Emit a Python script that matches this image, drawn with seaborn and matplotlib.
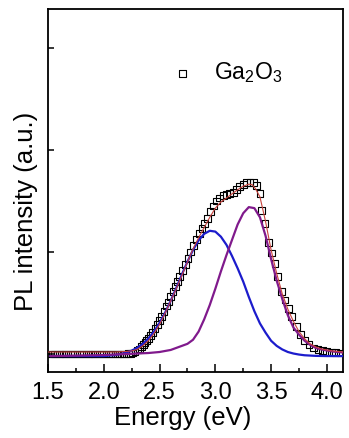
#!/usr/bin/env python3
"""PL spectrum of Ga2O3 with two-peak deconvolution."""

import matplotlib
matplotlib.use("Agg")
import matplotlib.pyplot as plt
from matplotlib.ticker import MultipleLocator
import pandas as pd
import seaborn as sns


# measured PL points (open squares)
DATA_E = [
    1.52, 1.54, 1.56, 1.58, 1.60, 1.62, 1.64, 1.66, 1.68, 1.70, 1.72, 1.74,
    1.76, 1.78, 1.80, 1.82, 1.84, 1.86, 1.88, 1.90, 1.92, 1.94, 1.96, 1.98,
    2.00, 2.02, 2.04, 2.06, 2.08, 2.10, 2.12, 2.14, 2.16, 2.18, 2.20, 2.22,
    2.24, 2.26, 2.28, 2.30, 2.32, 2.34, 2.355, 2.37, 2.385, 2.40, 2.42, 2.44,
    2.46, 2.48, 2.50, 2.52, 2.54, 2.56, 2.58, 2.60, 2.62, 2.64, 2.66, 2.68,
    2.705, 2.73, 2.755, 2.78, 2.805, 2.83, 2.855, 2.88, 2.905, 2.93, 2.955,
    2.98, 3.01, 3.04, 3.07, 3.10, 3.13, 3.16, 3.19, 3.22, 3.25, 3.28, 3.31,
    3.34, 3.37, 3.40, 3.415, 3.445, 3.475, 3.505, 3.535, 3.555, 3.595, 3.625,
    3.655, 3.685, 3.73, 3.76, 3.80, 3.84, 3.88, 3.92, 3.96, 4.00, 4.04, 4.08,
    4.12,
]
DATA_I = [
    0.0, 0.0, 0.0, 0.0, 0.0, 0.0, 0.0, 0.0, 0.0, 0.0, 0.0, 0.0,
    0.0, 0.0, 0.0, 0.0, 0.0, 0.0, 0.0, 0.0, 0.0, 0.0, 0.0, 0.0,
    0.0, 0.0, 0.0, 0.0, 0.0, 0.0, 0.0, 0.0, 0.0, 0.0, 0.0, 0.005,
    0.005, 0.01, 0.02, 0.04, 0.05, 0.07, 0.09, 0.11, 0.13, 0.15, 0.18, 0.21,
    0.25, 0.29, 0.33, 0.37, 0.42, 0.47, 0.51, 0.56, 0.61, 0.66, 0.71, 0.76,
    0.82, 0.88, 0.94, 1.00, 1.06, 1.12, 1.18, 1.23, 1.28, 1.33, 1.40,
    1.45, 1.50, 1.53, 1.55, 1.56, 1.57, 1.58, 1.61, 1.64, 1.66, 1.68, 1.685,
    1.68, 1.65, 1.57, 1.41, 1.28, 1.09, 0.99, 0.89, 0.76, 0.61, 0.53,
    0.45, 0.37, 0.27, 0.19, 0.13, 0.09, 0.06, 0.045, 0.035, 0.025, 0.02, 0.015,
    0.01,
]

# cumulative fit (red)
FIT_E = [
    1.50, 1.80, 2.10, 2.20, 2.25, 2.30, 2.35, 2.40, 2.45, 2.50, 2.55, 2.60,
    2.65, 2.70, 2.75, 2.80, 2.85, 2.90, 2.95, 3.00, 3.05, 3.10, 3.15, 3.20,
    3.25, 3.30, 3.33, 3.36, 3.40, 3.45, 3.50, 3.55, 3.60, 3.65, 3.70, 3.75,
    3.80, 3.85, 3.90, 3.95, 4.00, 4.05, 4.10, 4.145,
]
FIT_I = [
    0.02, 0.02, 0.02, 0.025, 0.03, 0.045, 0.08, 0.13, 0.20, 0.29, 0.40, 0.52,
    0.64, 0.77, 0.90, 1.03, 1.14, 1.24, 1.34, 1.43, 1.49, 1.53, 1.57, 1.61,
    1.645, 1.665, 1.66, 1.62, 1.54, 1.30, 1.02, 0.79, 0.59, 0.44, 0.32, 0.22,
    0.15, 0.10, 0.07, 0.05, 0.04, 0.03, 0.025, 0.02,
]

# low-energy component (blue)
PEAK1_E = [
    1.52, 1.80, 2.00, 2.10, 2.15, 2.20, 2.25, 2.30, 2.35, 2.40, 2.45, 2.50,
    2.55, 2.60, 2.65, 2.70, 2.75, 2.80, 2.85, 2.90, 2.95, 3.00, 3.05, 3.10,
    3.15, 3.20, 3.25, 3.30, 3.35, 3.40, 3.45, 3.50, 3.55, 3.60, 3.65, 3.70,
    3.75, 3.80, 3.90, 4.00, 4.145,
]
PEAK1_I = [
    -0.02, -0.02, -0.02, -0.01, 0.0, 0.014, 0.033, 0.061, 0.10, 0.152, 0.22, 0.305,
    0.406, 0.522, 0.648, 0.779, 0.905, 1.02, 1.114, 1.178, 1.208, 1.20, 1.15, 1.07,
    0.96, 0.84, 0.71, 0.56, 0.42, 0.30, 0.21, 0.13, 0.08, 0.045, 0.02, 0.005,
    -0.005, -0.012, -0.018, -0.02, -0.02,
]

# high-energy component (purple)
PEAK2_E = [
    1.52, 2.00, 2.20, 2.40, 2.50, 2.60, 2.70, 2.75, 2.80, 2.85, 2.90, 2.95,
    3.00, 3.05, 3.10, 3.15, 3.20, 3.25, 3.30, 3.35, 3.40, 3.45, 3.50, 3.55,
    3.60, 3.65, 3.70, 3.75, 3.80, 3.85, 3.90, 3.95, 4.00, 4.05, 4.10, 4.145,
]
PEAK2_I = [
    -0.02, -0.01, 0.0, 0.01, 0.02, 0.04, 0.08, 0.10, 0.14, 0.22, 0.34, 0.48,
    0.64, 0.81, 0.97, 1.12, 1.27, 1.38, 1.44, 1.43, 1.34, 1.16, 0.93, 0.72,
    0.54, 0.38, 0.26, 0.19, 0.13, 0.09, 0.06, 0.045, 0.035, 0.025, 0.02, 0.015,
]

X_TICKS = [1.5, 2.0, 2.5, 3.0, 3.5, 4.0]
X_TICK_LABELS = ["1.5", "2.0", "2.5", "3.0", "3.5", "4.0"]
Y_TICKS = [0, 1, 2, 3]


def main() -> None:
    sns.set_style("ticks")
    plt.rcParams["font.family"] = ["Liberation Sans", "DejaVu Sans"]
    plt.rcParams["mathtext.default"] = "regular"
    plt.rcParams["text.color"] = "black"
    plt.rcParams["axes.labelcolor"] = "black"
    plt.rcParams["xtick.color"] = "black"
    plt.rcParams["ytick.color"] = "black"

    data = pd.DataFrame({"energy": DATA_E, "intensity": DATA_I})
    fit = pd.DataFrame({"energy": FIT_E, "intensity": FIT_I})
    p1 = pd.DataFrame({"energy": PEAK1_E, "intensity": PEAK1_I})
    p2 = pd.DataFrame({"energy": PEAK2_E, "intensity": PEAK2_I})

    fig = plt.figure(figsize=(3.49, 4.38), dpi=100)
    ax = fig.add_axes([0.1375, 0.1507, 0.8455, 0.8288])

    sns.scatterplot(
        data=data, x="energy", y="intensity", marker="s", s=24,
        facecolors="none", edgecolor="black", linewidth=0.8,
        label="Ga$_2$O$_3$", ax=ax, zorder=2,
    )
    sns.lineplot(data=p1, x="energy", y="intensity", color="#1c1ccc",
                 linewidth=1.6, sort=False, estimator=None, ax=ax, zorder=3)
    sns.lineplot(data=p2, x="energy", y="intensity", color="#801a8c",
                 linewidth=1.6, sort=False, estimator=None, ax=ax, zorder=3)
    sns.lineplot(data=fit, x="energy", y="intensity", color="#c8423c",
                 linewidth=0.8, sort=False, estimator=None, ax=ax, zorder=4)

    ax.set_xlim(1.5, 4.145)
    ax.set_ylim(-0.176, 3.382)
    ax.set_xticks(X_TICKS)
    ax.set_xticklabels(X_TICK_LABELS)
    ax.xaxis.set_minor_locator(MultipleLocator(0.25))
    ax.set_yticks(Y_TICKS)
    ax.tick_params(axis="x", which="major", direction="in", length=5.8,
                   width=1.1, labelsize=17, pad=7)
    ax.tick_params(axis="x", which="minor", direction="in", length=2.9, width=1.1)
    ax.tick_params(axis="y", which="major", direction="in", length=4.3,
                   width=1.1, labelleft=False)
    for spine in ax.spines.values():
        spine.set_visible(True)
        spine.set_linewidth(1.3)
        spine.set_color("black")

    ax.set_xlabel("Energy (eV)", fontsize=18.5)
    ax.set_ylabel("PL intensity (a.u.)", fontsize=18.5)
    ax.xaxis.set_label_coords(0.456, -0.094)
    ax.yaxis.set_label_coords(-0.035, 0.443)

    ax.legend(
        loc="center left", bbox_to_anchor=(0.4176, 0.824), frameon=False,
        fontsize=16.5, handlelength=1.0, handletextpad=0.86, borderpad=0,
        borderaxespad=0,
    )

    fig.savefig("out.png", dpi=100)
    plt.close(fig)


if __name__ == "__main__":
    main()
